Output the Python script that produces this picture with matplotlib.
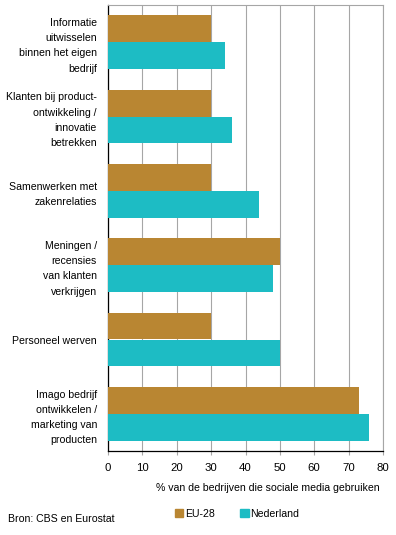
import numpy as np
import matplotlib
matplotlib.use("Agg")
import matplotlib.pyplot as plt
from matplotlib.patches import Patch

plt.rcParams['font.family'] = ['Liberation Sans', 'DejaVu Sans']

# data
categories = [
    "Informatie\nuitwisselen\nbinnen het eigen\nbedrijf",
    "Klanten bij product-\nontwikkeling /\ninnovatie\nbetrekken",
    "Samenwerken met\nzakenrelaties",
    "Meningen /\nrecensies\nvan klanten\nverkrijgen",
    "Personeel werven",
    "Imago bedrijf\nontwikkelen /\nmarketing van\nproducten",
]
eu28 = [30, 30, 30, 50, 30, 73]
nederland = [34, 36, 44, 48, 50, 76]
xticks = [0, 10, 20, 30, 40, 50, 60, 70, 80]

c_eu = '#B98632'
c_nl = '#1DBCC4'
grid_c = '#A6A6A6'
fs = 7.6

fig = plt.figure(figsize=(3.96, 5.35), dpi=100)
ax = fig.add_axes([108 / 396, 1 - 451 / 535, 275 / 396, 446 / 535])

n = len(categories)
y = np.arange(n) + 0.5
h = 0.363
ax.barh(y - h / 2, eu28, height=h, color=c_eu, zorder=3)
ax.barh(y + h / 2, nederland, height=h, color=c_nl, zorder=3)

ax.set_xlim(0, 80)
ax.set_ylim(n, 0)
ax.set_xticks(xticks)
ax.set_xticklabels([str(t) for t in xticks], fontsize=8.2)
ax.set_yticks(y)
ax.set_yticklabels(categories, fontsize=fs, linespacing=1.65, ha='right')
ax.tick_params(axis='y', length=0, pad=8)
ax.tick_params(axis='x', length=3, width=0.8, color=grid_c, pad=5.5)
ax.grid(axis='x', color=grid_c, linewidth=0.8, zorder=0)

for s in ['top', 'right']:
    ax.spines[s].set_color(grid_c)
    ax.spines[s].set_linewidth(0.8)
ax.spines['left'].set_color('black')
ax.spines['bottom'].set_color('black')
ax.spines['left'].set_linewidth(0.9)
ax.spines['bottom'].set_linewidth(0.9)

fig.text(380 / 396, 1 - 488 / 535, "% van de bedrijven die sociale media gebruiken",
         ha='right', va='center', fontsize=fs)
fig.text(8 / 396, 1 - 519 / 535, "Bron: CBS en Eurostat", ha='left', va='center', fontsize=fs)

handles = [Patch(color=c_eu, label='EU-28'), Patch(color=c_nl, label='Nederland')]
fig.legend(handles=handles, ncol=2, frameon=False, fontsize=fs,
           loc='center left', bbox_to_anchor=(175 / 396, 1 - 514 / 535),
           handlelength=0.8, handleheight=0.8, handletextpad=0.15,
           columnspacing=2.4, borderpad=0, borderaxespad=0)

fig.savefig("out.png", dpi=100)
